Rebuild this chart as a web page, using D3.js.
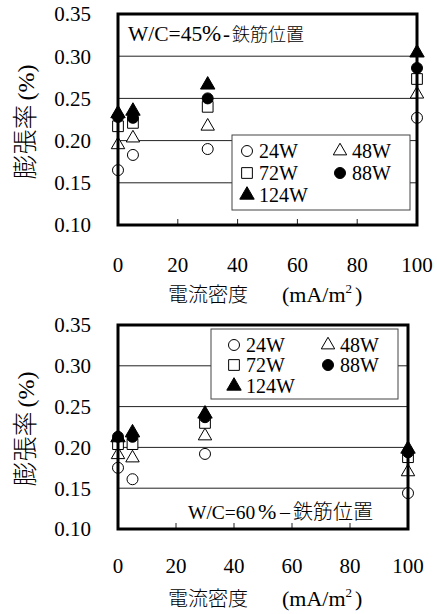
<!DOCTYPE html>
<html>
<head>
<meta charset="utf-8">
<script src="https://cdn.jsdelivr.net/npm/d3@7"></script>
<style>
  body { margin: 0; background: #fff; }
  svg { display: block; }
</style>
</head>
<body>
<svg id="chart"></svg>
<script>
// 電流密度 (mA/m2)
let density = [0, 5, 30, 100];
let seriesNames = ["24W", "48W", "72W", "88W", "124W"];
let yTicks = [0.10, 0.15, 0.20, 0.25, 0.30, 0.35];
let xTicks = [0, 20, 40, 60, 80, 100];

// W/C=45%
let w45_24W = [0.165, 0.183, 0.190, 0.227];
let w45_48W = [0.195, 0.203, 0.217, 0.255];
let w45_72W = [0.217, 0.221, 0.240, 0.273];
let w45_88W = [0.228, 0.227, 0.250, 0.286];
let w45_124W = [0.232, 0.235, 0.266, 0.304];

// W/C=60%
let w60_24W = [0.175, 0.161, 0.192, 0.144];
let w60_48W = [0.191, 0.187, 0.214, 0.170];
let w60_72W = [0.204, 0.204, 0.230, 0.188];
let w60_88W = [0.213, 0.213, 0.237, 0.194];
let w60_124W = [0.212, 0.218, 0.241, 0.198];

let width = 437;
let height = 614;
let serif = "Liberation Serif, Tinos, Times New Roman, Times, DejaVu Serif, serif";
let jp = "Noto Sans CJK JP, sans-serif";

let svg = d3.select("#chart")
    .attr("width", width)
    .attr("height", height);

// маркеры: тип символа и заливка по сериям
let markers = [
    {type: d3.symbolCircle, size: 95, fill: "#fff"},
    {type: d3.symbolTriangle, size: 78, fill: "#fff"},
    {type: d3.symbolSquare, size: 115, fill: "#fff"},
    {type: d3.symbolCircle, size: 95, fill: "#000"},
    {type: d3.symbolTriangle, size: 90, fill: "#000"}
];

drawPanel(svg, {
    left: 118, right: 417, top: 14, bottom: 225,
    data: [w45_24W, w45_48W, w45_72W, w45_88W, w45_124W],
    note: {y: 41, parts: [
        {x: 128, t: "W/C=45", f: serif, s: 21.5},
        {x: 202, t: "%", f: serif, s: 23},
        {x: 223, t: "-", f: serif, s: 21},
        {x: 232, t: "鉄筋位置", f: jp, s: 18}
    ]},
    legend: {x: 232, y: 135, w: 178, h: 75, rows: [151, 173, 195], c1: 247, c2: 340},
    tickLabelY: 272, titleY: 302, yTitleY: 122
});

drawPanel(svg, {
    left: 118, right: 408, top: 325, bottom: 529,
    data: [w60_24W, w60_48W, w60_72W, w60_88W, w60_124W],
    note: {y: 519, parts: [
        {x: 188, t: "W/C=60", f: serif, s: 19.5},
        {x: 258, t: "%", f: serif, s: 22},
        {x: 280, t: "–", f: serif, s: 20},
        {x: 293, t: "鉄筋位置", f: jp, s: 20}
    ]},
    legend: {x: 211, y: 329, w: 187, h: 70, rows: [345, 365, 386], c1: 234, c2: 328},
    tickLabelY: 573, titleY: 606, yTitleY: 429
});

function drawPanel(svg, p) {
    let g = svg.append("g");

    let scaleX = d3.scaleLinear().domain([0, 100]).range([p.left, p.right]);
    let scaleY = d3.scaleLinear().domain([0.10, 0.35]).range([p.bottom, p.top]);

    // сетка
    g.selectAll(".grid")
        .data(yTicks.filter(d => d > 0.11 && d < 0.34))
        .enter()
        .append("line")
        .attr("x1", p.left)
        .attr("x2", p.right)
        .attr("y1", d => scaleY(d))
        .attr("y2", d => scaleY(d))
        .attr("stroke", "#222")
        .attr("stroke-width", 1);

    // засечки внутрь снизу
    g.selectAll(".tick")
        .data(xTicks.filter(d => d > 0 && d < 100))
        .enter()
        .append("line")
        .attr("x1", d => scaleX(d))
        .attr("x2", d => scaleX(d))
        .attr("y1", p.bottom)
        .attr("y2", p.bottom - 6)
        .attr("stroke", "#222")
        .attr("stroke-width", 1);

    // подписи осей
    g.selectAll(".ylab")
        .data(yTicks)
        .enter()
        .append("text")
        .style("font-family", serif)
        .attr("x", 91)
        .attr("y", d => scaleY(d))
        .attr("dy", "0.35em")
        .attr("text-anchor", "end")
        .attr("font-size", 21)
        .text(d => d.toFixed(2));

    g.selectAll(".xlab")
        .data(xTicks)
        .enter()
        .append("text")
        .style("font-family", serif)
        .attr("x", d => scaleX(d))
        .attr("y", p.tickLabelY)
        .attr("text-anchor", "middle")
        .attr("font-size", 21)
        .text(d => d);

    // подпись оси X
    let xt = g.append("text")
        .attr("x", 168)
        .attr("y", p.titleY)
        .style("font-family", serif)
        .attr("font-size", 22);
    xt.append("tspan").style("font-family", jp).attr("font-weight", 300).attr("font-size", 20).text("電流密度");
    xt.append("tspan").attr("x", 282).text("(mA/m");
    xt.append("tspan").attr("font-size", 13).attr("dy", -9).text("2");
    xt.append("tspan").attr("dy", 9).attr("dx", 3).text(")");

    // подпись оси Y
    let yt = g.append("text")
        .attr("transform", `translate(25, ${p.yTitleY}) rotate(-90)`)
        .attr("text-anchor", "middle")
        .attr("dy", "0.36em")
        .style("font-family", serif)
        .attr("font-size", 24);
    yt.append("tspan").style("font-family", jp).attr("font-weight", 300).attr("font-size", 25).text("膨張率");
    yt.append("tspan").attr("dx", 4).text("(%)");

    // легенда
    let L = p.legend;
    g.append("rect")
        .attr("x", L.x)
        .attr("y", L.y)
        .attr("width", L.w)
        .attr("height", L.h)
        .attr("fill", "#fff")
        .attr("stroke", "#444")
        .attr("stroke-width", 1);

    let pos = [[L.c1, L.rows[0]], [L.c2, L.rows[0]], [L.c1, L.rows[1]], [L.c2, L.rows[1]], [L.c1, L.rows[2]]];
    seriesNames.forEach(function (name, i) {
        g.append("path")
            .attr("d", d3.symbol().type(markers[i].type).size(markers[i].size)())
            .attr("transform", `translate(${pos[i][0]}, ${pos[i][1]})`)
            .attr("fill", markers[i].fill)
            .attr("stroke", "#000")
            .attr("stroke-width", 1);
        g.append("text")
            .style("font-family", serif)
            .attr("x", pos[i][0] + 12)
            .attr("y", pos[i][1])
            .attr("dy", "0.35em")
            .attr("font-size", 20)
            .text(name);
    });

    // надпись W/C
    let nt = g.append("text").attr("y", p.note.y);
    p.note.parts.forEach(function (q) {
        nt.append("tspan")
            .attr("x", q.x)
            .style("font-family", q.f)
            .attr("font-weight", q.f === jp ? 300 : 400)
            .attr("font-size", q.s)
            .text(q.t);
    });

    // точки
    p.data.forEach(function (vals, i) {
        g.selectAll(".pt" + i)
            .data(vals)
            .enter()
            .append("path")
            .attr("d", d3.symbol().type(markers[i].type).size(markers[i].size)())
            .attr("transform", (d, j) => `translate(${scaleX(density[j])}, ${scaleY(d)})`)
            .attr("fill", markers[i].fill)
            .attr("stroke", "#000")
            .attr("stroke-width", 1);
    });

    // рамка
    g.append("rect")
        .attr("x", p.left)
        .attr("y", p.top)
        .attr("width", p.right - p.left)
        .attr("height", p.bottom - p.top)
        .attr("fill", "none")
        .attr("stroke", "#000")
        .attr("stroke-width", 3);
}
</script>
</body>
</html>
